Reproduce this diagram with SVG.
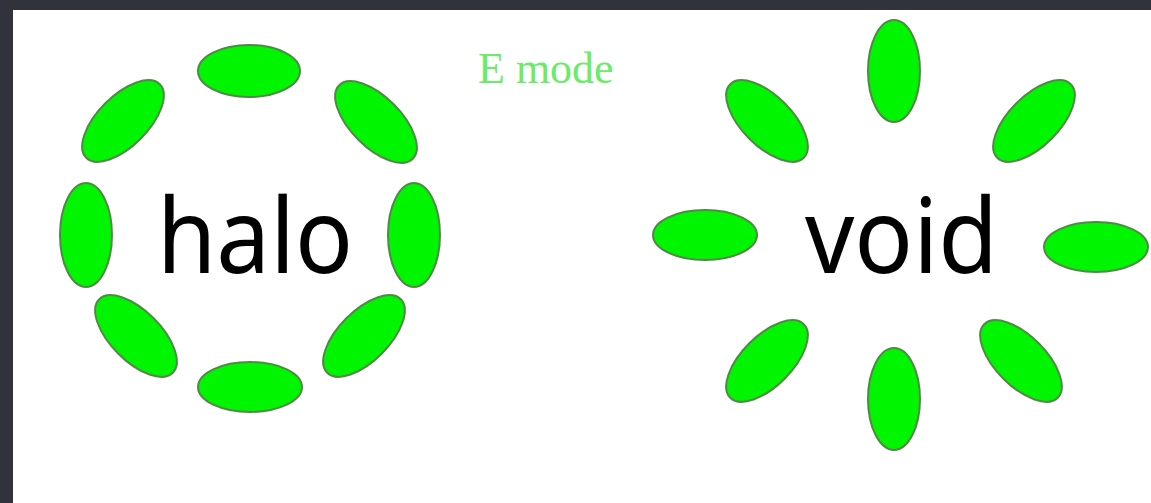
<svg xmlns="http://www.w3.org/2000/svg" width="1151" height="503" viewBox="0 0 1151 503">
<style>
.blob{fill:#00f500;stroke:#4f8a45;stroke-width:2}
.big{font-family:"Comic Sans MS","Noto Sans",sans-serif;font-size:104px;fill:#000}
.mode{font-family:"Liberation Serif",serif;font-size:44px;fill:#6aeb6a}
</style>
<rect x="0" y="0" width="1151" height="503" fill="#30323c"/>
<rect x="13" y="10" width="1138" height="493" fill="#ffffff"/>
<g id="halo">
<ellipse class="blob" cx="249" cy="71" rx="51" ry="26"/>
<ellipse class="blob" cx="123" cy="121" rx="52" ry="25" transform="rotate(-45 123 121)"/>
<ellipse class="blob" cx="376" cy="122" rx="52" ry="25" transform="rotate(45 376 122)"/>
<ellipse class="blob" cx="86" cy="235" rx="26" ry="52"/>
<ellipse class="blob" cx="414" cy="235" rx="26" ry="52"/>
<ellipse class="blob" cx="136" cy="336" rx="52" ry="25" transform="rotate(45 136 336)"/>
<ellipse class="blob" cx="364" cy="336" rx="52" ry="25" transform="rotate(-45 364 336)"/>
<ellipse class="blob" cx="250" cy="387" rx="52" ry="25"/>
<text class="big" x="157" y="273" textLength="196" lengthAdjust="spacingAndGlyphs">halo</text>
</g>
<g id="void">
<ellipse class="blob" cx="894" cy="71" rx="26" ry="51"/>
<ellipse class="blob" cx="767" cy="121" rx="52" ry="25" transform="rotate(45 767 121)"/>
<ellipse class="blob" cx="1034" cy="121" rx="52" ry="25" transform="rotate(-45 1034 121)"/>
<ellipse class="blob" cx="705" cy="235" rx="52" ry="25"/>
<ellipse class="blob" cx="1096" cy="247" rx="52" ry="25"/>
<ellipse class="blob" cx="767" cy="361" rx="52" ry="25" transform="rotate(-45 767 361)"/>
<ellipse class="blob" cx="1021" cy="361" rx="52" ry="25" transform="rotate(45 1021 361)"/>
<ellipse class="blob" cx="894" cy="399" rx="26" ry="51"/>
<text class="big" x="805" y="273" textLength="193" lengthAdjust="spacingAndGlyphs">void</text>
</g>
<g id="emode">
<text class="mode" x="478" y="83">E mode</text>
</g>
<g id="connectors"/>
</svg>
